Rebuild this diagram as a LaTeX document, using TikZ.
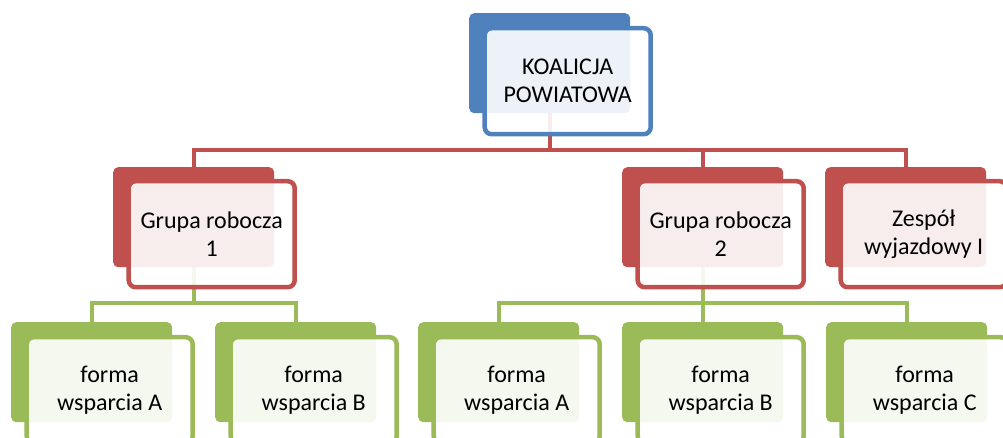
\documentclass[tikz,border=0pt]{standalone}
\usepackage{fontspec}
\setmainfont{Carlito}
\usetikzlibrary{calc}
\definecolor{cblue}{HTML}{4F81BD}
\definecolor{cred}{HTML}{C0504D}
\definecolor{cgreen}{HTML}{9BBB59}
\tikzset{
  backbox/.style={rectangle, rounded corners=5pt, minimum width=161pt, minimum height=100pt, inner sep=0pt, anchor=north west, fill=#1},
  frontbox/.style={rectangle, rounded corners=7pt, minimum width=166pt, minimum height=106pt, inner sep=0pt, draw=#1, line width=4.5pt, fill=white, fill opacity=0.9, text opacity=1, align=center, font=\fontsize{24}{28}\selectfont},
  conn/.style={draw=#1, line width=4pt, line join=miter}
}
\begin{document}
\begin{tikzpicture}[x=1pt,y=-1pt]
\clip (0,0) rectangle (1003,437);
\fill[white] (0,0) rectangle (1003,437);
% back boxes
\node[backbox=cblue] (top-b) at (469,13) {};
\node[backbox=cred] (r1-b) at (113,167) {};
\node[backbox=cred] (r2-b) at (622,167) {};
\node[backbox=cred] (r3-b) at (825,167) {};
\node[backbox=cgreen] (g1-b) at (11,322) {};
\node[backbox=cgreen] (g2-b) at (215,322) {};
\node[backbox=cgreen] (g3-b) at (418,322) {};
\node[backbox=cgreen] (g4-b) at (622,322) {};
\node[backbox=cgreen] (g5-b) at (826,322) {};
% connectors
\coordinate (bus1) at (0,150);
\coordinate (bus2) at (0,303);
\draw[conn=cred] (top-b.south) -- (top-b.south |- bus1);
\draw[conn=cred] (r1-b.north) |- (r3-b.north |- bus1) -- (r3-b.north);
\draw[conn=cred] (r2-b.north |- bus1) -- (r2-b.north);
\draw[conn=cgreen] (r1-b.south) -- (r1-b.south |- bus2);
\draw[conn=cgreen] (g1-b.north) |- (g2-b.north |- bus2) -- (g2-b.north);
\draw[conn=cgreen] (r2-b.south) -- (r2-b.south |- bus2);
\draw[conn=cgreen] (g3-b.north) |- (g5-b.north |- bus2) -- (g5-b.north);
\draw[conn=cgreen] (g4-b.north |- bus2) -- (g4-b.north);
% front boxes
\node[frontbox=cblue] (top) at ($(top-b.center)+(18,18)$) {KOALICJA\\POWIATOWA};
\node[frontbox=cred] (r1) at ($(r1-b.center)+(18,17)$) {Grupa robocza\\1};
\node[frontbox=cred] (r2) at ($(r2-b.center)+(18,17)$) {Grupa robocza\\2};
\node[frontbox=cred] (r3) at ($(r3-b.center)+(18,17)$) {Zespół\\wyjazdowy I};
\node[frontbox=cgreen] (g1) at ($(g1-b.center)+(18,18)$) {forma\\wsparcia A};
\node[frontbox=cgreen] (g2) at ($(g2-b.center)+(18,18)$) {forma\\wsparcia B};
\node[frontbox=cgreen] (g3) at ($(g3-b.center)+(18,18)$) {forma\\wsparcia A};
\node[frontbox=cgreen] (g4) at ($(g4-b.center)+(18,18)$) {forma\\wsparcia B};
\node[frontbox=cgreen] (g5) at ($(g5-b.center)+(18,18)$) {forma\\wsparcia C};
\end{tikzpicture}
\end{document}
